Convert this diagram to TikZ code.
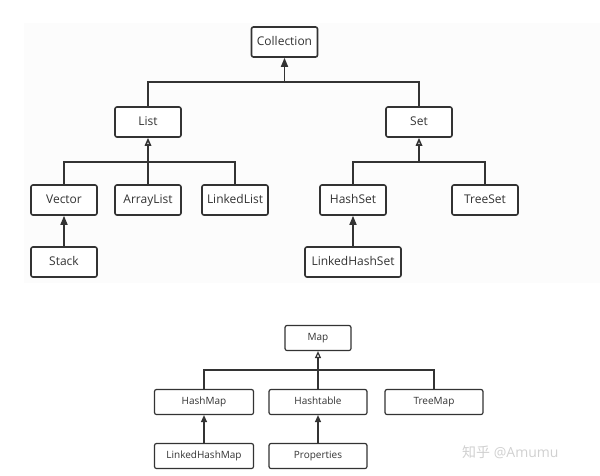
\documentclass[tikz,border=0pt]{standalone}
\usepackage{fontspec}
\setmainfont{Open Sans}
\newfontfamily\cjkfont{Noto Sans CJK SC}
\usetikzlibrary{arrows.meta}
\definecolor{ink}{HTML}{333333}
\definecolor{wm}{HTML}{D0D0D0}
\begin{document}
\begin{tikzpicture}[x=1pt,y=-1pt,
  big/.style={draw=ink,line width=1.6pt,rounded corners=2pt,fill=white,minimum width=66pt,minimum height=30pt,inner sep=0pt,text height=9pt,text depth=3pt,font=\fontsize{12}{12}\selectfont,text=ink},
  small/.style={draw=ink,line width=1.2pt,rounded corners=2pt,fill=white,minimum height=25pt,inner sep=0pt,text height=7.5pt,text depth=2.5pt,font=\fontsize{10}{10}\selectfont,text=ink},
  conbig/.style={draw=ink,line width=1.6pt},
  consmall/.style={draw=ink,line width=1.2pt},
  filled/.style={-{Triangle[length=9pt,width=7pt]}},
  hollow/.style={-{Triangle[open,length=8pt,width=6.5pt,fill=white]}}
]
\useasboundingbox (0,0) rectangle (600,475);
\fill[black!1] (24,23) rectangle (600,283);

% top tree
\node[big] (coll) at (284.5,42) {Collection};
\node[big] (list) at (148,122) {List};
\node[big] (set) at (419,122) {Set};
\node[big] (vector) at (64,200) {Vector};
\node[big] (alist) at (148,200) {ArrayList};
\node[big] (llist) at (235,200) {LinkedList};
\node[big] (stack) at (64,262) {Stack};
\node[big] (hset) at (353,200) {HashSet};
\node[big] (tset) at (485,200) {TreeSet};
\node[big,minimum width=96pt] (lhset) at (353,262) {LinkedHashSet};

\coordinate (j1) at (284.5,82);
\coordinate (j2) at (148,162);
\coordinate (j3) at (419,162);

\draw[conbig] (list.north) |- (j1) -| (set.north);
\draw[conbig,filled] (j1) -- (coll.south);
\draw[conbig] (vector.north) |- (j2) -| (llist.north);
\draw[conbig] (alist.north) -- (j2);
\draw[conbig,hollow] (j2) -- (list.south);
\draw[conbig] (hset.north) |- (j3) -| (tset.north);
\draw[conbig,hollow] (j3) -- (set.south);
\draw[conbig,filled] (stack.north) -- (vector.south);
\draw[conbig,filled] (lhset.north) -- (hset.south);

% bottom tree
\node[small,minimum width=66pt] (map) at (318,338) {Map};
\node[small,minimum width=99pt] (hmap) at (204,402) {HashMap};
\node[small,minimum width=98pt] (htab) at (318,402) {Hashtable};
\node[small,minimum width=98pt] (tmap) at (434,402) {TreeMap};
\node[small,minimum width=99pt] (lhmap) at (204,456) {LinkedHashMap};
\node[small,minimum width=98pt] (props) at (318,456) {Properties};

\coordinate (j4) at (318,370);
\draw[consmall] (hmap.north) |- (j4) -| (tmap.north);
\draw[consmall] (htab.north) -- (j4);
\draw[consmall,-{Triangle[open,length=7pt,width=6pt,fill=white]}] (j4) -- (map.south);
\draw[consmall,-{Triangle[length=7pt,width=6pt]}] (lhmap.north) -- (hmap.south);
\draw[consmall,-{Triangle[length=7pt,width=6pt]}] (props.north) -- (htab.south);

\node[anchor=west,text=wm,inner sep=0pt,font=\fontsize{14}{14}\selectfont] (mark) at (462,452) {{\cjkfont 知乎} @Amumu};
\end{tikzpicture}
\end{document}
